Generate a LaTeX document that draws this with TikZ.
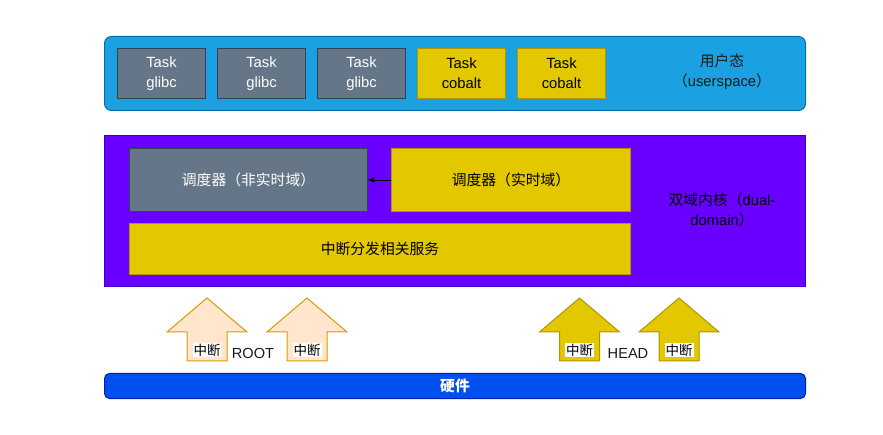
\documentclass[tikz,border=0pt]{standalone}
\usepackage{fontspec}
\setmainfont{Liberation Sans}
\newfontfamily\cjk{Noto Sans CJK SC}
\usetikzlibrary{arrows.meta}
\definecolor{userblue}{HTML}{1BA1E2}
\definecolor{userblueline}{HTML}{006EAF}
\definecolor{slatefill}{HTML}{647687}
\definecolor{slateline}{HTML}{314354}
\definecolor{goldfill}{HTML}{E3C800}
\definecolor{goldline}{HTML}{B09500}
\definecolor{violetfill}{HTML}{6A00FF}
\definecolor{violetline}{HTML}{3700CC}
\definecolor{cobaltfill}{HTML}{0050EF}
\definecolor{cobaltline}{HTML}{001DBC}
\definecolor{peachfill}{HTML}{FFE6CC}
\definecolor{peachline}{HTML}{D79B00}
\definecolor{darktext}{HTML}{1A1A1A}
\newcommand\myblockarrow[3]{%
  \draw[#2] (#1,298) -- (#1+40,332) -- (#1+20,332) -- (#1+20,361) -- (#1-20,361) -- (#1-20,332) -- (#1-40,332) -- cycle;
  \node[intlabel] (#3) at (#1,350) {\cjk 中断};
}
\begin{document}
\begin{tikzpicture}[x=1bp,y=-1bp,
  base/.style={inner sep=0pt, align=center, anchor=north west, line width=1bp,
    font=\fontsize{14.8bp}{20bp}\selectfont},
  slatebox/.style={base, fill=slatefill, draw=slateline, text=white},
  goldbox/.style={base, fill=goldfill, draw=goldline, text=black},
  layerlabel/.style={align=center, inner sep=0pt, text=darktext, font=\fontsize{14.8bp}{20bp}\selectfont},
  intlabel/.style={fill=white, inner sep=1pt, text=black, font=\fontsize{13.5bp}{15bp}\selectfont},
  rootarrow/.style={fill=peachfill, draw=peachline, line width=1bp},
  headarrow/.style={fill=goldfill, draw=goldline, line width=1bp},
  plainlabel/.style={inner sep=0pt, text=darktext, font=\fontsize{14.6bp}{17bp}\selectfont}
]
\useasboundingbox (0,0) rectangle (883,435);

% userspace layer
\node[base, fill=userblue, draw=userblueline, rounded corners=7bp,
  minimum width=701bp, minimum height=74bp] (user) at (104,36) {};
\node[slatebox, minimum width=88bp, minimum height=50bp] (t1) at (117,48) {Task\\glibc};
\node[slatebox, minimum width=88bp, minimum height=50bp] (t2) at (217,48) {Task\\glibc};
\node[slatebox, minimum width=88bp, minimum height=50bp] (t3) at (317,48) {Task\\glibc};
\node[goldbox, minimum width=88bp, minimum height=50bp] (t4) at (417,48) {Task\\cobalt};
\node[goldbox, minimum width=88bp, minimum height=50bp] (t5) at (517,48) {Task\\cobalt};
\node[layerlabel] (userlbl) at (722,72) {{\cjk 用户态}\\{\cjk （}userspace{\cjk ）}};

% kernel layer
\node[base, fill=violetfill, draw=violetline,
  minimum width=701bp, minimum height=151bp] (kernel) at (104,135) {};
\node[slatebox, minimum width=238bp, minimum height=63bp] (nrt) at (129,148) {\cjk 调度器（非实时域）};
\node[goldbox, minimum width=239bp, minimum height=63bp] (rt) at (391,148) {\cjk 调度器（实时域）};
\node[goldbox, minimum width=501bp, minimum height=51bp] (irq) at (129,223) {\cjk 中断分发相关服务};
\node[layerlabel, text=black] (kernlbl) at (722,210) {{\cjk 双域内核（}dual-\\domain{\cjk ）}};
\draw[-{Stealth[length=7bp,width=6bp]}, line width=0.8bp, black] (rt.west) -- (nrt.east);

% hardware layer
\node[base, fill=cobaltfill, draw=cobaltline, rounded corners=5bp, text=white,
  minimum width=701bp, minimum height=25bp] (hw) at (104,373) {\cjk\bfseries 硬件};

% interrupt arrows
\myblockarrow{207}{rootarrow}{i1}
\myblockarrow{307}{rootarrow}{i2}
\myblockarrow{579.5}{headarrow}{i3}
\myblockarrow{679}{headarrow}{i4}
\node[plainlabel] (root) at (253,353.5) {ROOT};
\node[plainlabel] (head) at (628,353.5) {HEAD};
\end{tikzpicture}
\end{document}
